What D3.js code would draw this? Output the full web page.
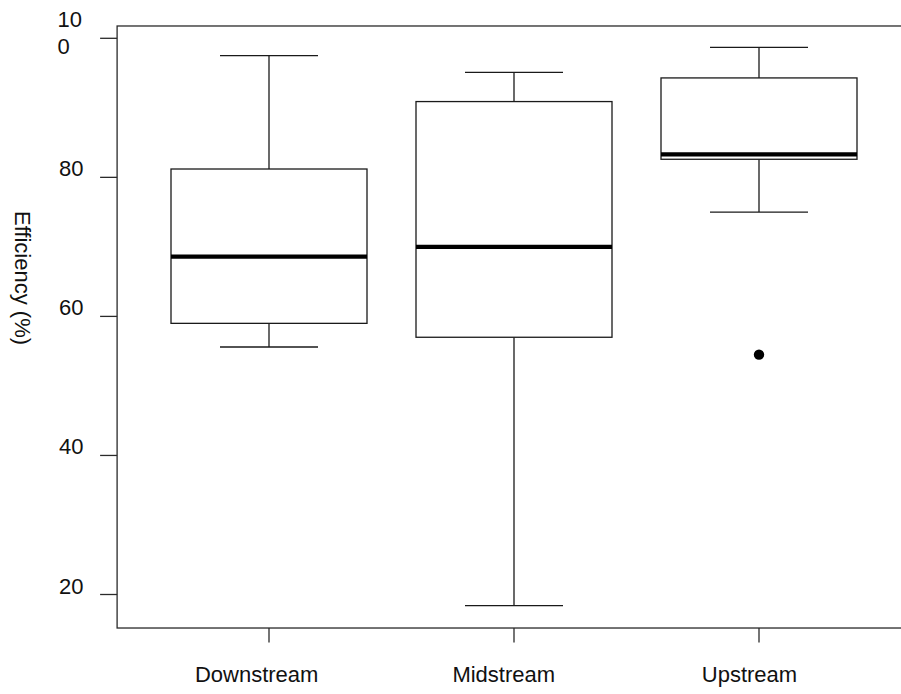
<!DOCTYPE html>
<html>
<head>
<meta charset="utf-8">
<script src="https://cdn.jsdelivr.net/npm/d3@7"></script>
<style>
  html, body { margin: 0; padding: 0; background: #fff; }
  svg { display: block; }
  text { font-family: "Liberation Sans", Arial, Helvetica, sans-serif; fill: #111; }
</style>
</head>
<body>
<svg id="chart" width="901" height="694"></svg>
<script>
// Box plot summaries per sampling site
const categories = ["Downstream", "Midstream", "Upstream"];
const whiskerLow  = [55.6, 18.4, 75.0];
const q1          = [59.0, 57.0, 82.6];
const median      = [68.6, 70.0, 83.3];
const q3          = [81.2, 90.9, 94.3];
const whiskerHigh = [97.5, 95.1, 98.7];
const outliers    = [[], [], [54.5]];
const yTicks      = [20, 40, 60, 80, 100];
const yTitle      = "Efficiency (%)";

const svg = d3.select("#chart");

// x: categories at 1..3, plot region spans 0.38..3.62 like a base-graphics box plot
const xIdx = d3.scaleLinear().domain([1, 3]).range([269, 759]);
const x = c => xIdx(categories.indexOf(c) + 1);
const y = d3.scaleLinear().domain([20, 100]).range([594.5, 38.3]);

const xLo = xIdx(0.38), xHi = xIdx(3.62);
const yLo = y(15.18), yHi = y(101.77);
const unit = xIdx(2) - xIdx(1);
const boxW = 0.8 * unit;
const capW = boxW / 2;

const stroke = "#1a1a1a";

// plot frame
svg.append("rect")
  .attr("x", xLo).attr("y", yHi)
  .attr("width", xHi - xLo).attr("height", yLo - yHi)
  .attr("fill", "none").attr("stroke", "#2a2a2a").attr("stroke-width", 1.3);

// y axis ticks and labels
const yAxis = svg.append("g");
yTicks.forEach(t => {
  const ty = y(t);
  yAxis.append("line")
    .attr("x1", xLo - 17).attr("x2", xLo)
    .attr("y1", ty).attr("y2", ty)
    .attr("stroke", "#2a2a2a").attr("stroke-width", 1.3);
  const label = String(t);
  if (label.length > 2) {
    // wide label wraps onto two lines
    const txt = yAxis.append("text")
      .attr("x", 57.5).attr("y", ty - 11)
      .attr("font-size", 22).attr("text-anchor", "start");
    txt.append("tspan").attr("x", 57.5).text(label.slice(0, 2));
    txt.append("tspan").attr("x", 57.5).attr("dy", 27).text(label.slice(2));
  } else {
    yAxis.append("text")
      .attr("x", 83.5).attr("y", ty - 1)
      .attr("font-size", 22).attr("text-anchor", "end")
      .text(label);
  }
});

// y title
svg.append("text")
  .attr("transform", `translate(14.5, 278) rotate(90)`)
  .attr("font-size", 22).attr("text-anchor", "middle")
  .text(yTitle);

// x axis ticks and labels
const xAxis = svg.append("g");
categories.forEach(c => {
  const cx = x(c);
  xAxis.append("line")
    .attr("x1", cx).attr("x2", cx)
    .attr("y1", yLo).attr("y2", yLo + 14.5)
    .attr("stroke", "#2a2a2a").attr("stroke-width", 1.3);
  const t = xAxis.append("text")
    .attr("y", 682).attr("font-size", 22).attr("text-anchor", "start")
    .text(c);
  const w = t.node().getComputedTextLength();
  t.attr("x", cx - 0.6 * w);
});

// boxes
const boxes = svg.append("g");
categories.forEach((c, i) => {
  const cx = x(c);
  const g = boxes.append("g");
  // whiskers
  g.append("line")
    .attr("x1", cx).attr("x2", cx)
    .attr("y1", y(q3[i])).attr("y2", y(whiskerHigh[i]))
    .attr("stroke", stroke).attr("stroke-width", 1.3);
  g.append("line")
    .attr("x1", cx).attr("x2", cx)
    .attr("y1", y(q1[i])).attr("y2", y(whiskerLow[i]))
    .attr("stroke", stroke).attr("stroke-width", 1.3);
  // whisker caps
  [whiskerHigh[i], whiskerLow[i]].forEach(v => {
    g.append("line")
      .attr("x1", cx - capW / 2).attr("x2", cx + capW / 2)
      .attr("y1", y(v)).attr("y2", y(v))
      .attr("stroke", stroke).attr("stroke-width", 1.3);
  });
  // box
  g.append("rect")
    .attr("x", cx - boxW / 2).attr("y", y(q3[i]))
    .attr("width", boxW).attr("height", y(q1[i]) - y(q3[i]))
    .attr("fill", "#fff").attr("stroke", stroke).attr("stroke-width", 1.3);
  // median
  g.append("line")
    .attr("x1", cx - boxW / 2).attr("x2", cx + boxW / 2)
    .attr("y1", y(median[i])).attr("y2", y(median[i]))
    .attr("stroke", "#000").attr("stroke-width", 4.2);
  // outliers
  outliers[i].forEach(v => {
    g.append("circle")
      .attr("cx", cx).attr("cy", y(v)).attr("r", 5.2)
      .attr("fill", "#000");
  });
});
</script>
</body>
</html>
